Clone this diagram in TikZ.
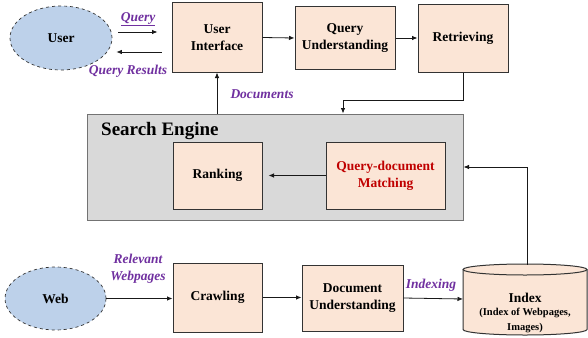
\documentclass[tikz,border=0pt]{standalone}
\usepackage{fontspec}
\setmainfont{Liberation Serif}
\usetikzlibrary{shapes.geometric,arrows.meta,calc}
\definecolor{peach}{HTML}{FBE5D6}
\definecolor{ublue}{HTML}{BDD1EA}
\definecolor{segray}{HTML}{D9D9D9}
\definecolor{lblpurple}{HTML}{7030A0}
\definecolor{qdred}{HTML}{C00000}
\tikzset{
  box/.style={draw=black!80, fill=peach, line width=1pt, align=center, inner sep=0pt,
    font=\fontsize{13.5}{17}\selectfont\bfseries},
  oval/.style={ellipse, draw=black!80, dashed, fill=ublue, line width=0.7pt, inner sep=0pt,
    font=\fontsize{13.5}{16}\selectfont\bfseries},
  lbl/.style={text=lblpurple, align=center, inner sep=0pt,
    font=\fontsize{13.5}{17}\selectfont\bfseries\itshape},
  arr/.style={-{Latex[length=5.5pt,width=4.5pt]}, line width=0.8pt, draw=black!90}
}
\begin{document}
\begin{tikzpicture}[x=1pt,y=-1pt]
\useasboundingbox[fill=white] (0,0) rectangle (588,337);

% search engine container
\node[draw=black!55, fill=segray, line width=1pt, minimum width=376pt, minimum height=106pt, inner sep=0pt] (se) at (275,167) {};
\node[anchor=west, inner sep=0pt, font=\fontsize{19}{21}\selectfont\bfseries] (setitle) at (101,131) {Search Engine};

% top row
\node[oval, minimum width=102pt, minimum height=64pt] (user) at (61,38) {User};
\node[box, minimum width=90pt, minimum height=69pt] (ui) at (217,37.5) {User\\Interface};
\node[box, minimum width=100pt, minimum height=62pt] (qu) at (345,38) {Query\\Understanding};
\node[box, minimum width=90pt, minimum height=67pt] (ret) at (463,38.5) {Retrieving};

% search engine contents
\node[box, minimum width=89pt, minimum height=67pt] (rank) at (217.5,175.5) {Ranking};
\node[box, minimum width=119pt, minimum height=67pt, text=qdred] (qdm) at (385.5,175.5) {Query-document\\Matching};

% bottom row
\node[oval, minimum width=101pt, minimum height=63pt] (web) at (55.5,298.5) {Web};
\node[box, minimum width=89pt, minimum height=69pt] (crawl) at (217.5,297.5) {Crawling};
\node[box, minimum width=101pt, minimum height=66pt] (du) at (352.5,298) {Document\\Understanding};

% index cylinder
\fill[peach] (463,269.5) -- (463,329.5) arc[start angle=180, end angle=360, x radius=62pt, y radius=5.5pt] -- (587,269.5) -- cycle;
\draw[black!80, line width=1pt] (463,269.5) -- (463,329.5) arc[start angle=180, end angle=360, x radius=62pt, y radius=5.5pt] -- (587,269.5);
\draw[black!80, line width=1pt, fill=peach] (525,269.5) ellipse[x radius=62pt, y radius=5.5pt];
\coordinate (idxtop) at (527,264.5);
\coordinate (idxwest) at (463,299);
\node[align=center, inner sep=0pt, font=\fontsize{13.5}{15}\selectfont\bfseries] (idx) at (525,313)
  {Index\\[-2pt]{\fontsize{10.5}{12}\selectfont (Index of Webpages,}\\{\fontsize{10.5}{12}\selectfont Images)}};

% connectors
\draw[arr] ([shift={(6,-6)}]user.east) -- ([shift={(-14,-5.5)}]ui.west);
\draw[arr] ([shift={(-10,14.5)}]ui.west) -- ([shift={(4,14)}]user.east);
\draw[arr] (ui.east) -- (qu.west);
\draw[arr] (qu.west -| qu.east) -- (ret.west |- qu.east);
\draw[arr] (ret.south) -- ++(0,28) -| ([xshift=68pt]se.north);
\draw[arr] (se.north -| ui.south) -- (ui.south);
\draw[arr, shorten >=6pt] (qdm.west) -- (rank.east);
\draw[arr] (idxtop) |- (se.east);
\draw[arr] (web.east) -- (crawl.west |- web.east);
\draw[arr] (crawl.east) -- (du.west |- crawl.east);
\draw[arr] (du.east) -- (idxwest);

% labels
\node[lbl] (lq) at (138,19) {\underline{Query}};
\node[lbl] (lqr) at (128,71) {Query Results};
\node[lbl] (ldoc) at (262,94) {Documents};
\node[lbl] (lrw) at (138,269) {Relevant\\Webpages};
\node[lbl] (lidx) at (431,285) {Indexing};
\end{tikzpicture}
\end{document}
